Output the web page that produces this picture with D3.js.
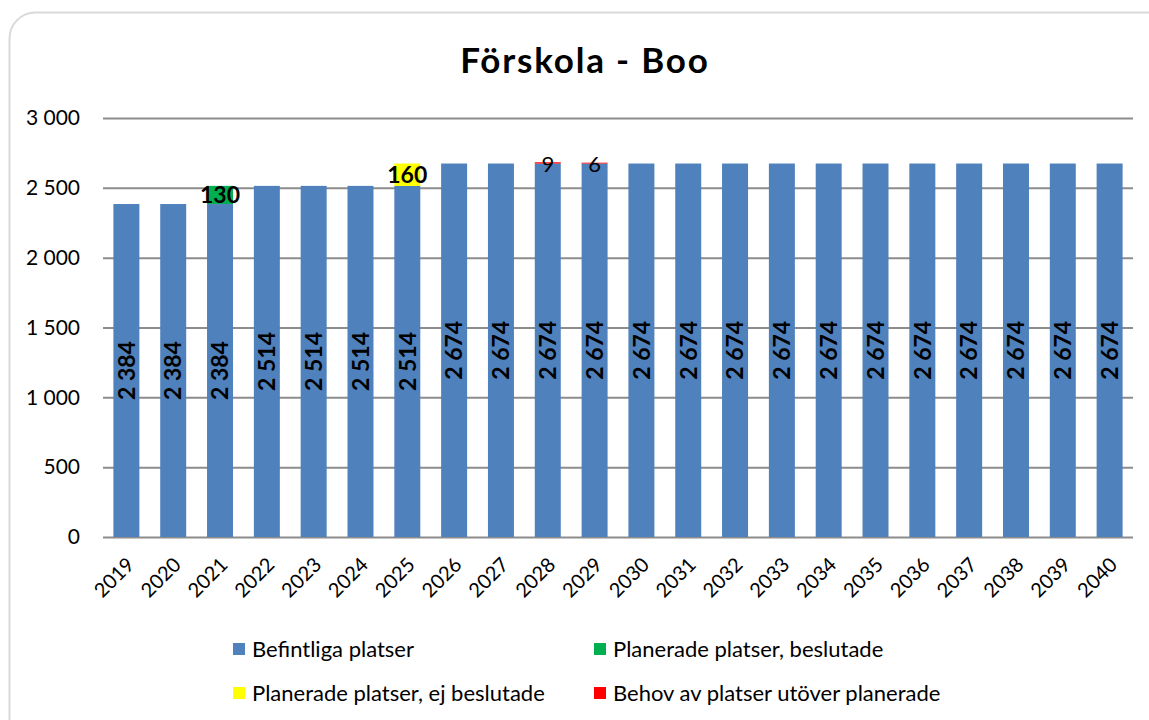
<!DOCTYPE html>
<html>
<head>
	<meta charset="utf-8">
	<title>Förskola - Boo</title>
	<script src="https://cdnjs.cloudflare.com/ajax/libs/d3/7.8.5/d3.min.js"></script>
	<style>
		body { margin: 0; background: #fff; }
		text { font-family: Lato, "Open Sans", sans-serif; fill: #000; }
	</style>
</head>
<body>
	<div id="chartDiv"></div>
	<script>
		// data
		const years = ['2019','2020','2021','2022','2023','2024','2025','2026','2027','2028','2029',
			'2030','2031','2032','2033','2034','2035','2036','2037','2038','2039','2040'];
		const befintliga = [2384,2384,2384,2514,2514,2514,2514,2674,2674,2674,2674,
			2674,2674,2674,2674,2674,2674,2674,2674,2674,2674,2674];
		const beslutade = [0,0,130,0,0,0,0,0,0,0,0,0,0,0,0,0,0,0,0,0,0,0];
		const ejBeslutade = [0,0,0,0,0,0,160,0,0,0,0,0,0,0,0,0,0,0,0,0,0,0];
		const behov = [0,0,0,0,0,0,0,0,0,9,6,0,0,0,0,0,0,0,0,0,0,0];
		const yTicks = [0, 500, 1000, 1500, 2000, 2500, 3000];

		const series = [
			{ key: 'befintliga', name: 'Befintliga platser', color: '#4F81BD', values: befintliga },
			{ key: 'beslutade', name: 'Planerade platser, beslutade', color: '#00B050', values: beslutade },
			{ key: 'ej', name: 'Planerade platser, ej beslutade', color: '#FFFF00', values: ejBeslutade },
			{ key: 'behov', name: 'Behov av platser utöver planerade', color: '#FF0000', values: behov }
		];

		const width = 1149, height = 720;
		const margin = { left: 103, right: 16, top: 118, bottom: 183 };
		const innerW = width - margin.left - margin.right;
		const innerH = height - margin.top - margin.bottom;

		const svg = d3.select('#chartDiv').append('svg')
			.attr('width', width)
			.attr('height', height);

		// chart frame
		svg.append('rect')
			.attr('x', 9.5).attr('y', 12.5)
			.attr('width', 1180).attr('height', 740)
			.attr('rx', 26)
			.attr('fill', '#fff')
			.attr('stroke', '#d9d9d9')
			.attr('stroke-width', 2);

		svg.append('text')
			.attr('x', 585).attr('y', 73)
			.attr('text-anchor', 'middle')
			.style('font-size', '35px')
			.style('font-weight', 'bold')
			.style('letter-spacing', '1.8px')
			.text('Förskola - Boo');

		const g = svg.append('g').attr('transform', `translate(${margin.left},${margin.top})`);

		const xScale = d3.scaleBand()
			.domain(years)
			.range([0, innerW])
			.paddingInner(0.445)
			.paddingOuter(0.222);

		const yScale = d3.scaleLinear()
			.domain([0, 3000])
			.range([innerH, 0]);

		const fmt = v => d3.format(',')(v).replace(/,/g, ' ');

		// gridlines + y labels
		const yAxis = d3.axisLeft(yScale)
			.tickValues(yTicks)
			.tickSize(-innerW)
			.tickPadding(23)
			.tickFormat(fmt);

		const yAxisG = g.append('g').call(yAxis);
		yAxisG.select('.domain').remove();
		yAxisG.selectAll('.tick line')
			.attr('stroke', '#8c8c8c')
			.attr('stroke-width', 2);
		yAxisG.selectAll('.tick text')
			.style('font-size', '21px')
			.style('font-family', 'Lato, sans-serif')
			.attr('fill', '#222');

		// stacked rows
		const table = years.map((y, i) => {
			const row = { year: y };
			series.forEach(s => { row[s.key] = s.values[i]; });
			return row;
		});
		const stacked = d3.stack().keys(series.map(s => s.key))(table);

		const layer = g.selectAll('.layer')
			.data(stacked)
			.enter().append('g')
			.attr('class', 'layer')
			.attr('fill', (d, i) => series[i].color);

		layer.selectAll('rect')
			.data(d => d.filter(p => p[1] - p[0] > 0))
			.enter().append('rect')
			.attr('x', d => xScale(d.data.year))
			.attr('width', xScale.bandwidth())
			.attr('y', d => yScale(d[1]))
			.attr('height', d => yScale(d[0]) - yScale(d[1]));

		// labels inside the blue bars
		g.append('g').selectAll('text')
			.data(stacked[0])
			.enter().append('text')
			.attr('transform', d => `translate(${xScale(d.data.year) + xScale.bandwidth() / 2},${yScale((d[0] + d[1]) / 2)}) rotate(-90)`)
			.attr('text-anchor', 'middle')
			.attr('dy', '0.36em')
			.style('font-size', '23px')
			.style('font-weight', 'bold')
			.text(d => fmt(d[1] - d[0]));

		// labels for the small segments
		stacked.slice(1).forEach((s, k) => {
			g.append('g').selectAll('text')
				.data(s.filter(p => p[1] - p[0] > 0))
				.enter().append('text')
				.attr('x', d => xScale(d.data.year) + xScale.bandwidth() / 2)
				.attr('y', d => yScale((d[0] + d[1]) / 2))
				.attr('dy', k === 2 ? '0.42em' : '0.36em')
				.attr('text-anchor', 'middle')
				.style('font-size', k === 2 ? '22px' : '23px')
				.style('font-weight', k === 2 ? 'normal' : 'bold')
				.text(d => fmt(d[1] - d[0]));
		});

		// x labels
		g.append('g').selectAll('text')
			.data(years)
			.enter().append('text')
			.attr('transform', d => `translate(${xScale(d) + xScale.bandwidth() / 2 + 4},${innerH + 24}) rotate(-45)`)
			.attr('text-anchor', 'end')
			.attr('dy', '0.35em')
			.style('font-size', '20px')
			.attr('fill', '#222')
			.text(d => d);

		// legend
		const legendPos = [[233, 649], [594, 649], [233, 693], [594, 693]];
		const legend = svg.append('g').selectAll('g')
			.data(series)
			.enter().append('g')
			.attr('transform', (d, i) => `translate(${legendPos[i][0]},${legendPos[i][1]})`);
		legend.append('rect')
			.attr('x', 0).attr('y', -6)
			.attr('width', 12).attr('height', 12)
			.attr('fill', d => d.color);
		legend.append('text')
			.attr('x', 19)
			.attr('dy', '0.36em')
			.style('font-size', '22px')
			.attr('fill', '#222')
			.text(d => d.name);
	</script>
</body>
</html>
